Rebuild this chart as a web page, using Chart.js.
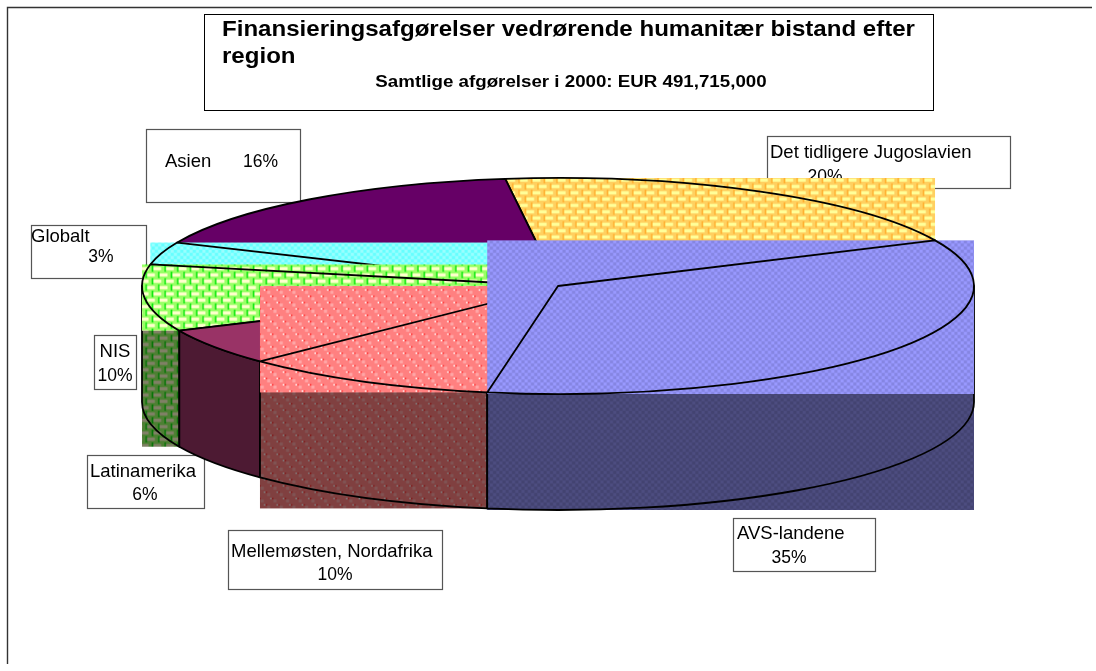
<!DOCTYPE html>
<html><head><meta charset="utf-8">
<style>html,body{margin:0;padding:0;background:#fff}canvas{display:block}</style>
<script src="https://cdn.jsdelivr.net/npm/chart.js@4"></script>
</head><body><canvas id="c" width="1096" height="671"></canvas>
<script>
const titleLines = ["Finansieringsafgørelser vedrørende humanitær bistand efter", "region"];
const subtitle = "Samtlige afgørelser i 2000: EUR 491,715,000";
const categories = ["AVS-landene", "Mellemøsten, Nordafrika", "Latinamerika", "NIS", "Globalt", "Asien", "Det tidligere Jugoslavien"];
const shares = [34.7, 10.0, 5.5, 10.0, 3.4, 16.4, 20.1];
const shareLabels = ["35%", "10%", "6%", "10%", "3%", "16%", "20%"];

// label boxes, same order as categories
const labelBoxes = [
  {b:[733,518,142,53], name:[737,534,"left"], pct:[789,558,"center"]},
  {b:[228,530,214,59], name:[231,552,"left"], pct:[335,575,"center"]},
  {b:[87,455,117,53],  name:[90,472,"left"],  pct:[145,495,"center"]},
  {b:[94,335,42,54],   name:[115,352,"center"], pct:[115,376,"center"]},
  {b:[31,225,115,53],  name:[31,237,"left"],  pct:[101,257,"center"]},
  {b:[146,129,154,73], name:[165,162,"left"], pct:[243,162,"left"]},
  {b:[767,136,243,52], name:[770,153,"left"], pct:[825,177,"center"]}
];

const SCALE_X = 2, SCALE_Y = 108/208, DEPTH = 116, TILE = 1.58;

function tile(rows, palette){
  const h = rows.length, w = rows[0].length;
  const t = document.createElement('canvas'); t.width = w; t.height = h;
  const g = t.getContext('2d');
  rows.forEach((r,y)=>[...r].forEach((ch,x)=>{g.fillStyle = palette[ch]; g.fillRect(x,y,1,1);}));
  const p = document.getElementById('c').getContext('2d').createPattern(t,'repeat');
  p.setTransform(new DOMMatrix().scale(TILE,TILE));
  return p;
}
const brick = ["MLLLLLLL","MBBBBBLL","MBBBBBLL","MLLLLLLL","LLLLMLLL","BBLLMBBB","BBLLMBBB","LLLLMLLL"];
const dots  = ["LPPLLLLL","LPPLLLLL","LLLLLLLL","LLLWRLLL","LLLLLPPL","LLLLLPPL","LLLLLLLL","RLLLLLLW"];
const check = ["AABB","AABB","BBAA","BBAA"];
const darken = pal => Object.fromEntries(Object.entries(pal).map(([k,v])=>[k,
  '#'+[1,3,5].map(i=>Math.round(parseInt(v.substr(i,2),16)/2).toString(16).padStart(2,'0')).join('')]));
const palBlue   = {A:'#9999ff',B:'#8585e2'};
const palRed    = {L:'#ff8080',P:'#ffa6a6',W:'#ffffff',R:'#ff3333'};
const palGreen  = {M:'#10e810',L:'#99ff66',B:'#ffffcc'};
const palCyan   = {A:'#66ffff',B:'#99ffff'};
const palYellow = {M:'#ffb030',L:'#ffd060',B:'#ffff99'};

const topFills = [
  tile(check,palBlue), tile(dots,palRed), '#993366', tile(brick,palGreen),
  tile(check,palCyan), '#660066', tile(brick,palYellow)
];
const sideFills = [
  tile(check,darken(palBlue)), tile(dots,darken(palRed)), '#4d1a33', tile(brick,darken(palGreen)),
  '#338080', '#330033', '#806633'
];

function arcBox(cx,cy,rx,ry,s,e,withCentre){
  const pts = [s,e];
  for(let k=Math.ceil(s/(Math.PI/2)); k*Math.PI/2<=e; k++) pts.push(k*Math.PI/2);
  const xs = pts.map(a=>cx+rx*Math.cos(a)), ys = pts.map(a=>cy+ry*Math.sin(a));
  if(withCentre){xs.push(cx); ys.push(cy);}
  return {x0:Math.min(...xs), x1:Math.max(...xs), y0:Math.min(...ys), y1:Math.max(...ys)};
}
function label(ctx,t,p){ctx.textAlign=p[2]; ctx.fillText(t,p[0],p[1]);}
function wideText(ctx,t,x,y,sx){ctx.save(); ctx.translate(x,y); ctx.scale(sx,1); ctx.fillText(t,0,0); ctx.restore();}

const pie3d = {
  id:'pie3d',
  beforeDatasetDraw(chart,args){
    const ctx = chart.ctx, arcs = args.meta.data;
    ctx.save();
    // frame
    ctx.strokeStyle='#333'; ctx.lineWidth=1.4;
    ctx.beginPath(); ctx.moveTo(7.5,664); ctx.lineTo(7.5,7.5); ctx.lineTo(1092,7.5); ctx.stroke();
    // title box
    ctx.strokeStyle='#000'; ctx.lineWidth=1; ctx.strokeRect(204.5,14.5,729,96);
    ctx.fillStyle='#000'; ctx.textBaseline='middle';
    ctx.font='bold 22.5px "Liberation Sans"'; ctx.textAlign='left';
    wideText(ctx,titleLines[0],222,30,1.07); wideText(ctx,titleLines[1],222,57,1.07);
    ctx.font='bold 16px "Liberation Sans"'; ctx.textAlign='center';
    wideText(ctx,subtitle,571,83,1.17);
    // label boxes
    labelBoxes.forEach((l,i)=>{
      ctx.strokeStyle='#555'; ctx.lineWidth=1.2;
      ctx.strokeRect(l.b[0]+.5,l.b[1]+.5,l.b[2],l.b[3]);
      ctx.fillStyle='#000';
      ctx.font='18.5px "Liberation Sans"'; label(ctx,categories[i],l.name);
      ctx.font='17.5px "Liberation Sans"'; label(ctx,shareLabels[i],l.pct);
    });
    ctx.strokeStyle='#000'; ctx.lineWidth=1.8; ctx.lineJoin='round';
    const order = arcs.map((a,i)=>i).reverse();
    // side walls
    order.forEach(i=>{
      const a=arcs[i], rx=a.outerRadius*SCALE_X, ry=a.outerRadius*SCALE_Y;
      const s=Math.max(a.startAngle,0), e=Math.min(a.endAngle,Math.PI);
      if(e<=s) return;
      const wall=()=>{ctx.beginPath(); ctx.ellipse(a.x,a.y,rx,ry,0,s,e);
        ctx.lineTo(a.x+rx*Math.cos(e),a.y+DEPTH+ry*Math.sin(e));
        ctx.ellipse(a.x,a.y+DEPTH,rx,ry,0,e,s,true); ctx.closePath();};
      const f=sideFills[i];
      if(typeof f==='string'){wall(); ctx.fillStyle=f; ctx.fill();}
      else{
        const t=arcBox(a.x,a.y,rx,ry,s,e,false), b=arcBox(a.x,a.y+DEPTH,rx,ry,s,e,false);
        ctx.fillStyle=f; ctx.fillRect(t.x0,t.y0,t.x1-t.x0,b.y1-t.y0);
      }
      wall(); ctx.stroke();
    });
    // top faces
    order.forEach(i=>{
      const a=arcs[i], rx=a.outerRadius*SCALE_X, ry=a.outerRadius*SCALE_Y;
      const path=()=>{ctx.beginPath(); ctx.moveTo(a.x,a.y);
        ctx.ellipse(a.x,a.y,rx,ry,0,a.startAngle,a.endAngle); ctx.closePath();};
      const f=a.options.backgroundColor;
      ctx.fillStyle=f;
      if(typeof f==='string'){path(); ctx.fill();}
      else{const b=arcBox(a.x,a.y,rx,ry,a.startAngle,a.endAngle,true);
        ctx.fillRect(b.x0,b.y0,b.x1-b.x0,b.y1-b.y0);}
      path(); ctx.stroke();
    });
    ctx.restore();
    return false;
  }
};

new Chart(document.getElementById('c'),{
  type:'pie',
  data:{labels:categories,datasets:[{data:shares,backgroundColor:topFills,borderWidth:0}]},
  options:{
    responsive:false,animation:false,events:[],
    rotation:65,radius:208,
    layout:{padding:{left:20,bottom:99}},
    plugins:{legend:{display:false},tooltip:{enabled:false}}
  },
  plugins:[pie3d]
});
</script></body></html>
